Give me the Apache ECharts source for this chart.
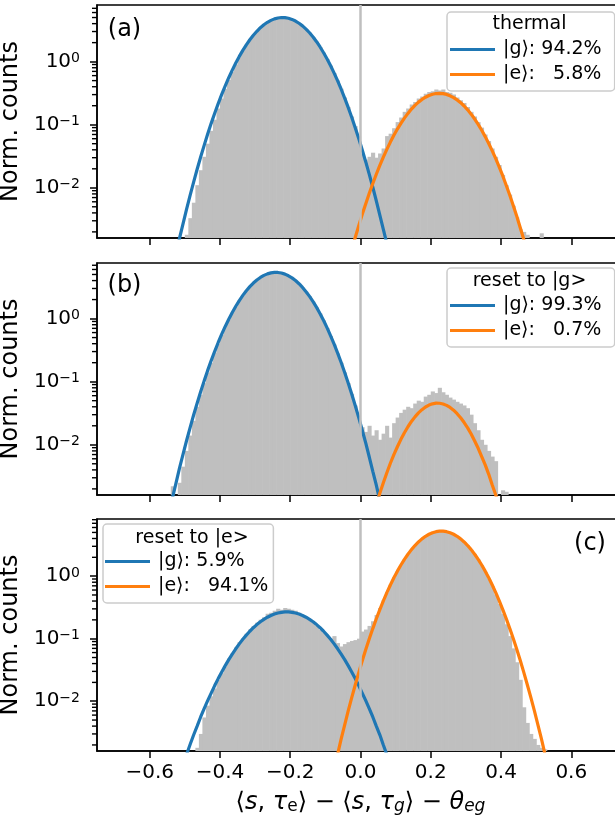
<!DOCTYPE html>
<html><head><meta charset="utf-8">
<script src="https://cdn.jsdelivr.net/npm/echarts@6/dist/echarts.min.js"></script>
<style>html,body{margin:0;padding:0;background:#fff}#c{width:615px;height:822px}</style>
</head><body><div id="c"></div>
<script>
const _ = null;
// histogram bin centres (bin width 0.01)
const binCenters = [
-0.555,-0.545,-0.535,-0.525,-0.515,-0.505,-0.495,-0.485,-0.475,-0.465,
-0.455,-0.445,-0.435,-0.425,-0.415,-0.405,-0.395,-0.385,-0.375,-0.365,
-0.355,-0.345,-0.335,-0.325,-0.315,-0.305,-0.295,-0.285,-0.275,-0.265,
-0.255,-0.245,-0.235,-0.225,-0.215,-0.205,-0.195,-0.185,-0.175,-0.165,
-0.155,-0.145,-0.135,-0.125,-0.115,-0.105,-0.095,-0.085,-0.075,-0.065,
-0.055,-0.045,-0.035,-0.025,-0.015,-0.005,0.005,0.015,0.025,0.035,
0.045,0.055,0.065,0.075,0.085,0.095,0.105,0.115,0.125,0.135,
0.145,0.155,0.165,0.175,0.185,0.195,0.205,0.215,0.225,0.235,
0.245,0.255,0.265,0.275,0.285,0.295,0.305,0.315,0.325,0.335,
0.345,0.355,0.365,0.375,0.385,0.395,0.405,0.415,0.425,0.435,
0.445,0.455,0.465,0.475,0.485,0.495,0.505,0.515,0.525,0.535,
0.545,0.555];
const BIN_W = 0.01;

// (a) thermal
const histA = [
0,0,0,0,0,0,0.0018,0.0033,0.0058,0.011,
0.019,0.031,0.05,0.08,0.12,0.18,0.26,0.37,0.51,0.69,
0.9,1.17,1.5,1.85,2.24,2.64,3.05,3.48,3.88,4.25,
4.55,4.8,4.95,5.02,4.98,4.88,4.66,4.38,4.05,3.68,
3.27,2.86,2.45,2.06,1.7,1.38,1.1,0.86,0.66,0.5,
0.37,0.27,0.19,0.135,0.095,0.065,0.034,0.028,0.031,0.036,
0.03,0.035,0.042,0.066,0.072,0.088,0.11,0.13,0.16,0.18,
0.21,0.23,0.26,0.28,0.31,0.33,0.34,0.36,0.35,0.36,
0.33,0.32,0.3,0.27,0.245,0.22,0.19,0.16,0.135,0.11,
0.09,0.07,0.055,0.042,0.031,0.023,0.016,0.011,0.0078,0.0052,
0.0034,0.0022,0.002,0.0018,0,0,0,0.0019,0,0,
0,0];
const fitGA = [
_,_,_,0.0009,0.0016,0.0027,0.0046,0.0076,0.0123,0.0197,
0.0307,0.047,0.071,0.105,0.152,0.216,0.302,0.413,0.556,0.734,
0.951,1.209,1.509,1.848,2.221,2.619,3.03,3.45,3.84,4.2,
4.51,4.76,4.92,5.0,4.98,4.87,4.67,4.4,4.06,3.69,
3.28,2.87,2.46,2.07,1.708,1.384,1.101,0.859,0.658,0.495,
0.365,0.264,0.188,0.131,0.0897,0.0603,0.0397,0.0257,0.0163,0.0102,
0.0062,0.0037,0.0022,0.0013,_,_,_,_,_,_,
_,_,_,_,_,_,_,_,_,_,
_,_,_,_,_,_,_,_,_,_,
_,_,_,_,_,_,_,_,_,_,
_,_,_,_,_,_,_,_,_,_,
_,_];
const fitEA = [
_,_,_,_,_,_,_,_,_,_,
_,_,_,_,_,_,_,_,_,_,
_,_,_,_,_,_,_,_,_,_,
_,_,_,_,_,_,_,_,_,_,
_,_,_,_,_,_,_,_,_,_,
_,_,_,0.00104,0.00163,0.0025,0.0038,0.0056,0.0082,0.0117,
0.0164,0.0227,0.0306,0.0407,0.053,0.0679,0.0853,0.105,0.127,0.151,
0.177,0.203,0.228,0.252,0.273,0.291,0.304,0.312,0.314,0.311,
0.302,0.287,0.269,0.247,0.224,0.198,0.172,0.147,0.123,0.101,
0.0816,0.0647,0.0504,0.0385,0.0289,0.0212,0.0154,0.0109,0.0076,0.0052,
0.0035,0.0023,0.0015,0.00095,0.00059,_,_,_,_,_,
_,_];

// (b) reset to |g>
const histB = [
0,0,0.0022,0,0.0025,0.0045,0.008,0.014,0.024,0.04,
0.062,0.095,0.14,0.2,0.29,0.4,0.55,0.74,0.97,1.24,
1.56,1.93,2.33,2.76,3.21,3.66,4.09,4.49,4.84,5.11,
5.3,5.39,5.38,5.27,5.06,4.77,4.42,4.01,3.57,3.12,
2.67,2.25,1.86,1.5,1.2,0.93,0.71,0.53,0.39,0.28,
0.2,0.14,0.095,0.064,0.042,0.027,0.019,0.016,0.02,0.014,
0.017,0.012,0.015,0.02,0.013,0.022,0.027,0.032,0.036,0.04,
0.038,0.045,0.05,0.048,0.058,0.062,0.07,0.066,0.08,0.068,
0.062,0.056,0.052,0.048,0.045,0.042,0.038,0.03,0.022,0.017,
0.012,0.01,0.008,0.0065,0.0055,0,0.0019,0.0018,0,0,
0,0,0,0,0,0,0,0,0,0,
0,0];
const fitGB = [
_,0.00082,0.00145,0.0025,0.0043,0.0071,0.0117,0.0187,0.0296,0.0456,
0.0693,0.103,0.151,0.216,0.303,0.418,0.566,0.751,0.978,1.25,
1.569,1.93,2.33,2.76,3.21,3.66,4.09,4.49,4.84,5.11,
5.3,5.39,5.38,5.27,5.06,4.77,4.42,4.01,3.57,3.12,
2.67,2.25,1.858,1.505,1.196,0.931,0.711,0.533,0.393,0.284,
0.201,0.14,0.0952,0.0639,0.0419,0.0269,0.017,0.0106,0.0064,0.0038,
0.0023,0.0013,_,_,_,_,_,_,_,_,
_,_,_,_,_,_,_,_,_,_,
_,_,_,_,_,_,_,_,_,_,
_,_,_,_,_,_,_,_,_,_,
_,_,_,_,_,_,_,_,_,_,
_,_];
const fitEB = [
_,_,_,_,_,_,_,_,_,_,
_,_,_,_,_,_,_,_,_,_,
_,_,_,_,_,_,_,_,_,_,
_,_,_,_,_,_,_,_,_,_,
_,_,_,_,_,_,_,_,_,_,
_,_,_,_,_,_,_,_,_,0.00072,
0.00112,0.0017,0.0025,0.0036,0.0051,0.007,0.0093,0.0122,0.0155,0.0193,
0.0234,0.0277,0.032,0.036,0.0397,0.0426,0.0446,0.0456,0.0455,0.0443,
0.0421,0.039,0.0353,0.0311,0.0268,0.0225,0.0185,0.0148,0.0115,0.0088,
0.0065,0.0048,0.0034,0.0023,0.0016,0.00103,0.00065,_,_,_,
_,_,_,_,_,_,_,_,_,_,
_,_];

// (c) reset to |e>
const histC = [
0,0,0,0,0,0,0,0,0,0.0018,
0.003,0.0055,0.0085,0.012,0.016,0.022,0.028,0.036,0.048,0.058,
0.072,0.088,0.1,0.12,0.14,0.16,0.18,0.2,0.22,0.25,
0.26,0.28,0.3,0.29,0.31,0.3,0.29,0.28,0.26,0.24,
0.22,0.2,0.18,0.16,0.14,0.125,0.11,0.1,0.11,0.085,
0.075,0.082,0.088,0.092,0.095,0.1,0.13,0.14,0.16,0.19,
0.24,0.31,0.41,0.55,0.73,0.95,1.21,1.51,1.86,2.24,
2.66,3.09,3.52,3.95,4.34,4.68,4.95,5.14,5.24,5.24,
5.14,4.95,4.68,4.34,3.95,3.52,3.09,2.65,2.23,1.84,
1.49,1.18,0.91,0.69,0.51,0.36,0.25,0.17,0.11,0.07,
0.042,0.022,0.008,0.0045,0.003,0.0025,0.002,0.0018,0.0017,0,
0,0];
const fitGC = [
_,_,_,_,_,_,0.00141,0.00203,0.00288,0.004,
0.0056,0.0076,0.0102,0.0135,0.0178,0.023,0.0294,0.0371,0.0462,0.0568,
0.069,0.0826,0.0977,0.1141,0.1315,0.1497,0.1681,0.1864,0.204,0.2205,
0.2352,0.2476,0.2574,0.2641,0.2676,0.2676,0.2641,0.2574,0.2476,0.2352,
0.2205,0.204,0.1864,0.1681,0.1497,0.1315,0.1141,0.0977,0.0826,0.069,
0.0568,0.0462,0.0371,0.0294,0.023,0.0178,0.0135,0.0102,0.0076,0.0056,
0.004,0.0029,0.002,0.0014,_,_,_,_,_,_,
_,_,_,_,_,_,_,_,_,_,
_,_,_,_,_,_,_,_,_,_,
_,_,_,_,_,_,_,_,_,_,
_,_,_,_,_,_,_,_,_,_,
_,_];
const fitEC = [
_,_,_,_,_,_,_,_,_,_,
_,_,_,_,_,_,_,_,_,_,
_,_,_,_,_,_,_,_,_,_,
_,_,_,_,_,_,_,_,_,_,
_,_,_,_,_,_,_,_,0.00081,0.00143,
0.0025,0.0042,0.007,0.0114,0.0182,0.0287,0.0443,0.067,0.0997,0.145,
0.208,0.292,0.402,0.544,0.722,0.941,1.202,1.508,1.855,2.24,
2.655,3.088,3.524,3.947,4.337,4.677,4.949,5.14,5.24,5.24,
5.14,4.949,4.677,4.337,3.947,3.524,3.088,2.655,2.24,1.855,
1.508,1.202,0.941,0.722,0.544,0.402,0.292,0.208,0.145,0.0997,
0.067,0.0443,0.0287,0.0182,0.0114,0.007,0.0042,0.0025,0.00143,0.00081,
_,_];

const legendTitles = ['thermal', 'reset to |g>', 'reset to |e>'];
const gLabels = ['|g\u27E9: 94.2%', '|g\u27E9: 99.3%', '|g\u27E9: 5.9%'];
const eLabels = ['|e\u27E9:   5.8%', '|e\u27E9:   0.7%', '|e\u27E9:   94.1%'];
const panelLabels = ['(a)', '(b)', '(c)'];
const xTicks = [-0.6, -0.4, -0.2, 0, 0.2, 0.4, 0.6];
const yMajor = [0.01, 0.1, 1];
const yMinor = [0.002,0.003,0.004,0.005,0.006,0.007,0.008,0.009,
                0.02,0.03,0.04,0.05,0.06,0.07,0.08,0.09,
                0.2,0.3,0.4,0.5,0.6,0.7,0.8,0.9,2,3,4,5,6,7,8];
const X_MIN = -0.75, X_MAX = 0.75;
const Y_MIN = 0.0016;
const yMaxes = [7.9, 7.6, 8.2];

const F = "'DejaVu Sans', sans-serif";
const BLUE = '#1f77b4', ORANGE = '#ff7f0e', GRAY = '#bfbfbf';
const grids = [{top:5,height:233},{top:263,height:232},{top:519,height:232}];
const MINOR_LEN = 5;

const panels = [
  {hist: histA, g: fitGA, e: fitEA},
  {hist: histB, g: fitGB, e: fitEB},
  {hist: histC, g: fitGC, e: fitEC}
];

function pairs(arr) {
  const out = [];
  arr.forEach((v, i) => { if (v !== null) out.push([binCenters[i], v]); });
  return out;
}
function renderHist(params, api) {
  const x = api.value(0), h = api.value(1);
  const tl = api.coord([x - BIN_W / 2, h]);
  const br = api.coord([x + BIN_W / 2, Y_MIN]);
  return {type: 'rect', shape: {x: tl[0], y: tl[1], width: br[0] - tl[0] + 0.6, height: br[1] - tl[1]},
          style: {fill: GRAY}};
}
function renderMinorTick(params, api) {
  const c = api.coord([api.value(0), api.value(1)]);
  return {type: 'line', shape: {x1: c[0] - MINOR_LEN, y1: c[1], x2: c[0], y2: c[1]},
          style: {stroke: '#000', lineWidth: 1.4}};
}
const supMap = v => { const e = Math.round(Math.log10(v)); return e < 0 ? '\u2212' + (-e) : String(e); };

const option = {
  animation: false,
  textStyle: {fontFamily: F},
  grid: grids.map(g => ({left: 97, width: 527, top: g.top, height: g.height, show: true,
    outerBoundsMode: 'none', containLabel: false,
    borderColor: '#000', borderWidth: 1.5, backgroundColor: 'transparent'})),
  xAxis: [0,1,2].map(k => ({
    type: 'value', gridIndex: k, min: X_MIN, max: X_MAX,
    axisLine: {show: true, onZero: false, lineStyle: {color: '#000', width: 1.5}},
    axisTick: {show: true, length: 7, lineStyle: {color: '#000', width: 1.5}, customValues: xTicks},
    axisLabel: {show: k === 2, customValues: xTicks, fontSize: 20, fontFamily: F, color: '#000', margin: 12,
      formatter: v => (v < 0 ? '\u2212' : '') + Math.abs(v).toFixed(1)},
    splitLine: {show: false},
    name: k === 2 ? '{n|\u27E8}{i|s}{n|, }{i|\u03C4}{sr|e}{n|\u27E9 \u2212 \u27E8}{i|s}{n|, }{i|\u03C4}{si|g}{n|\u27E9 \u2212 }{i|\u03B8}{si|eg}' : '',
    nameLocation: 'middle', nameGap: 40,
    nameTextStyle: {rich: {
      n: {fontSize: 24, fontFamily: F, color: '#000', lineHeight: 24, padding: [0,0,5,0], verticalAlign: 'top'},
      i: {fontSize: 24, fontFamily: F, color: '#000', lineHeight: 24, padding: [0,0,5,0], verticalAlign: 'top', fontStyle: 'italic'},
      sr: {fontSize: 17, fontFamily: F, color: '#000', lineHeight: 17, verticalAlign: 'bottom'},
      si: {fontSize: 17, fontFamily: F, color: '#000', lineHeight: 17, verticalAlign: 'bottom', fontStyle: 'italic'}
    }}
  })),
  yAxis: [0,1,2].map(k => ({
    type: 'log', logBase: 10, gridIndex: k, min: Y_MIN, max: yMaxes[k], position: 'left',
    axisLine: {show: true, onZero: false, lineStyle: {color: '#000', width: 1.5}},
    axisTick: {show: true, length: 7, lineStyle: {color: '#000', width: 1.5}, customValues: yMajor},
    axisLabel: {show: true, customValues: yMajor, margin: 17,
      formatter: v => '{b|10}{s|' + supMap(v) + '}',
      rich: {
        b: {fontSize: 20, fontFamily: F, color: '#000', lineHeight: 20, padding: [5,0,0,0], verticalAlign: 'bottom'},
        s: {fontSize: 14, fontFamily: F, color: '#000', lineHeight: 14, verticalAlign: 'top'}
      }},
    splitLine: {show: false},
    name: 'Norm. counts', nameLocation: 'middle', nameGap: 62,
    nameTextStyle: {fontSize: 24, fontFamily: F, color: '#000'}
  })),
  legend: [0,1,2].map(k => ({
    left: k === 2 ? 103 : 447, top: [12, 268, 524][k], orient: 'vertical',
    data: [gLabels[k], eLabels[k]], selectedMode: false,
    icon: 'rect', itemWidth: 45, itemHeight: 3.2, itemGap: 6,
    padding: k === 2 ? [28, 5, 7, 2] : [28, 13, 7, 3],
    backgroundColor: 'rgba(255,255,255,0.8)', borderColor: '#cccccc', borderWidth: 1.5, borderRadius: 4,
    textStyle: {fontSize: 19, fontFamily: F, color: '#000', padding: [0,0,0,3]}
  })),
  graphic: [
    {type: 'text', x: 529.5, y: 24, z: 100, style: {text: legendTitles[0], font: "19px 'DejaVu Sans'", fill: '#000', textAlign: 'center', textVerticalAlign: 'middle', verticalAlign: 'middle'}},
    {type: 'text', x: 529.5, y: 281, z: 100, style: {text: legendTitles[1], font: "19px 'DejaVu Sans'", fill: '#000', textAlign: 'center', textVerticalAlign: 'middle', verticalAlign: 'middle'}},
    {type: 'text', x: 192, y: 538, z: 100, style: {text: legendTitles[2], font: "19px 'DejaVu Sans'", fill: '#000', textAlign: 'center', textVerticalAlign: 'middle', verticalAlign: 'middle'}},
    {type: 'text', x: 124.5, y: 30, z: 100, style: {text: panelLabels[0], font: "24px 'DejaVu Sans'", fill: '#000', textAlign: 'center', textVerticalAlign: 'middle', verticalAlign: 'middle'}},
    {type: 'text', x: 124.5, y: 286, z: 100, style: {text: panelLabels[1], font: "24px 'DejaVu Sans'", fill: '#000', textAlign: 'center', textVerticalAlign: 'middle', verticalAlign: 'middle'}},
    {type: 'text', x: 590, y: 544, z: 100, style: {text: panelLabels[2], font: "24px 'DejaVu Sans'", fill: '#000', textAlign: 'center', textVerticalAlign: 'middle', verticalAlign: 'middle'}}
  ],
  series: []
};

panels.forEach((p, k) => {
  option.series.push({
    type: 'custom', xAxisIndex: k, yAxisIndex: k, renderItem: renderHist, clip: true, silent: true, z: 1,
    data: binCenters.map((x, i) => [x, p.hist[i]]).filter(d => d[1] > 0)
  });
  option.series.push({
    type: 'custom', xAxisIndex: k, yAxisIndex: k, renderItem: renderMinorTick, clip: false,
    data: yMinor.filter(v => v <= yMaxes[k] && v >= Y_MIN).map(v => [X_MIN, v])
  });
  option.series.push({
    type: 'line', xAxisIndex: k, yAxisIndex: k, data: [], z: 2, silent: true,
    markLine: {silent: true, symbol: ['none', 'none'], label: {show: false}, animation: false,
      lineStyle: {color: GRAY, width: 2.5, type: 'solid'}, data: [{xAxis: 0}]}
  });
  option.series.push({
    type: 'line', name: gLabels[k], xAxisIndex: k, yAxisIndex: k, data: pairs(p.g), symbol: 'none', z: 3, clip: true,
    lineStyle: {color: BLUE, width: 3.2}, itemStyle: {color: BLUE}
  });
  option.series.push({
    type: 'line', name: eLabels[k], xAxisIndex: k, yAxisIndex: k, data: pairs(p.e), symbol: 'none', z: 3, clip: true,
    lineStyle: {color: ORANGE, width: 3.2}, itemStyle: {color: ORANGE}
  });
});

const chart = echarts.init(document.getElementById('c'), null, {renderer: 'canvas'});
chart.setOption(option);
</script>
</body></html>
